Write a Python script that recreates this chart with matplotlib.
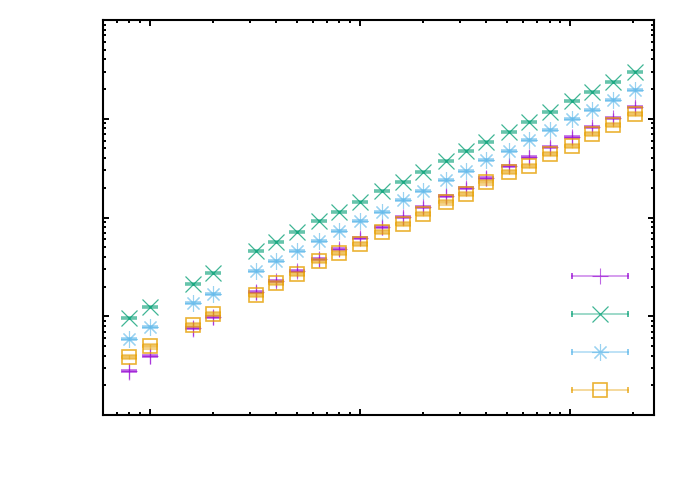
import numpy as np
import matplotlib
matplotlib.use('Agg')
import matplotlib.pyplot as plt

sizes = [8, 10, 16, 20, 32, 40, 50, 64, 80, 100, 128, 160, 200, 256,
         320, 400, 512, 640, 800, 1024, 1280, 1600, 2048]

purple = [2.77, 3.99, 7.55, 9.9, 17.7, 22.6, 28.9, 38.0, 47.6, 61.9, 80.1,
          100.5, 128.6, 166, 198, 251, 335, 410, 514, 649, 819, 1012, 1306]
green = [9.6, 12.5, 21.2, 27.2, 46.1, 56.9, 71.3, 92.8, 114.6, 144.6, 184,
         230.6, 291, 376, 474, 586, 742, 934, 1178, 1502, 1853, 2339, 2995]
blue = [5.88, 7.73, 13.5, 16.8, 28.7, 36.0, 46.1, 58.2, 73.5, 92.9, 114.5,
        150, 184, 241, 298, 380, 474, 612, 775, 994, 1235, 1549, 1954]
orange = [3.89, 4.96, 8.15, 10.6, 16.5, 21.7, 27.0, 36.5, 43.4, 53.9, 71.8,
          85.9, 108.5, 142.5, 173, 227, 287, 335, 440, 533, 701, 865, 1117]

# relative errors (fraction of value)
purple_err = [0.18, 0.18, 0.18, 0.17, 0.17, 0.12, 0.14, 0.17, 0.15, 0.15, 0.17,
              0.17, 0.15, 0.17, 0.15, 0.17, 0.13, 0.17, 0.17, 0.17, 0.13, 0.13, 0.17]
green_err = [0.015] * len(sizes)
blue_err = [0.02] * len(sizes)
orange_err = [0.05] * len(sizes)

series = [
    (purple, purple_err, '#9400d3', '+'),
    (green, green_err, '#009e73', 'x'),
    (blue, blue_err, '#56b4e9', (8, 2, 0)),
    (orange, orange_err, '#e69f00', 's'),
]


def draw_marker(ax, xs, ys, col, mk, **kw):
    if mk == 's':
        ax.plot(xs, ys, ls='none', marker=mk, ms=10.5, mfc='none',
                mec=col, mew=1.2, alpha=0.8, **kw)
    elif mk == 'x':
        ax.plot(xs, ys, ls='none', marker=mk, ms=11, mec=col, mfc=col,
                mew=0.9, alpha=0.75, **kw)
    else:
        ax.plot(xs, ys, ls='none', marker=mk, ms=12, mec=col, mfc=col,
                mew=0.8, alpha=0.6, **kw)


fig = plt.figure(figsize=(6.92, 4.85), dpi=100)
ax = fig.add_axes([103 / 692, 69 / 485, 551 / 692, 395 / 485])

for vals, rel, col, mk in series:
    vals = np.array(vals)
    err = vals * np.array(rel)
    ax.errorbar(sizes, vals, yerr=err, fmt='none', ecolor=col, elinewidth=1.0,
                capsize=5.4 if mk == 's' else 0, capthick=1.5, alpha=0.45)
    # thick short bar through the point, as gnuplot draws it
    ax.plot(sizes, vals, ls='none', marker='_', ms=11, mec=col, mew=2.6,
            alpha=0.6)
    draw_marker(ax, sizes, vals, col, mk)

# gnuplot-like key: horizontal bar with end ticks, marker at the middle
key_y = [0.352, 0.256, 0.159, 0.063]
for (vals, rel, col, mk), ky in zip(series, key_y):
    ax.plot([0.851, 0.953], [ky, ky], transform=ax.transAxes, color=col,
            lw=1.2, alpha=0.45, clip_on=False)
    ax.plot([0.851, 0.953], [ky, ky], transform=ax.transAxes, ls='none',
            marker='|', ms=5, mec=col, mew=1.2, alpha=0.8, clip_on=False)
    draw_marker(ax, [0.902], [ky], col, mk, transform=ax.transAxes)

ax.set_xscale('log')
ax.set_yscale('log')
ax.set_xlim(6, 2512)
ax.set_ylim(1, 1e4)

for s in ax.spines.values():
    s.set_linewidth(1.5)
ax.tick_params(which='both', direction='in', top=True, right=True,
               labelbottom=False, labelleft=False, width=1.4)
ax.tick_params(which='major', length=4)
ax.tick_params(which='minor', length=2.3)

plt.savefig('out.png', dpi=100)
